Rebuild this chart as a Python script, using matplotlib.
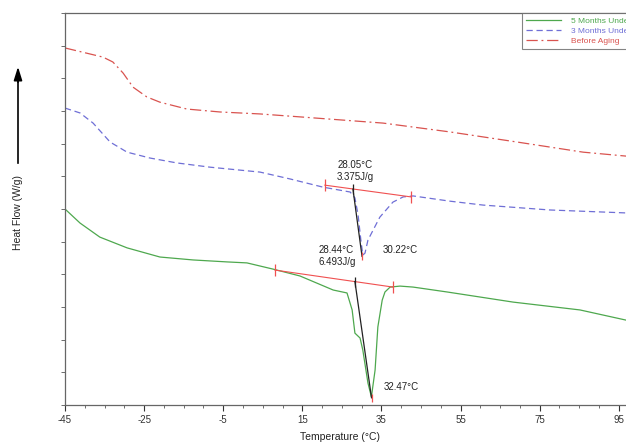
import matplotlib.pyplot as plt
import numpy as np

plt.rcParams['font.family'] = ['Liberation Sans', 'DejaVu Sans']
plt.rcParams['axes.unicode_minus'] = False

# Before Aging (red, dash-dot)
t_before = [-45, -35.4, -32.9, -30.3, -27.8, -24.3, -21.0, -14.2, -5.8, 4.3, 14.4,
            35.4, 52.3, 69.3, 86.0, 96.8, 100]
hf_before = [10.93, 10.65, 10.50, 10.16, 9.73, 9.43, 9.27, 9.06, 8.97, 8.91, 8.82,
             8.63, 8.36, 8.05, 7.74, 7.62, 7.58]

# 3 months (blue, dashed)
t_3m = [-45, -41.2, -37.9, -33.6, -29.3, -23.5, -16.7, -8.3, 4.3, 11.9, 20.2, 27.1,
        28.3, 29.1, 29.8, 30.3, 30.85, 31.6, 34.6, 37.9, 40.5, 43.0, 52.3, 60.7,
        77.6, 96.8, 100]
hf_3m = [9.09, 8.94, 8.63, 8.05, 7.74, 7.56, 7.41, 7.28, 7.13, 6.92, 6.67, 6.52,
         6.34, 5.82, 5.05, 4.59, 4.65, 5.05, 5.75, 6.21, 6.37, 6.40, 6.24, 6.12,
         5.97, 5.88, 5.86]

# 5 months (green, solid)
t_5m = [-45, -41.2, -36.2, -29.3, -21.0, -12.6, -4.0, 1.0, 7.6, 14.4, 22.8, 26.3,
        27.6, 28.3, 29.6, 30.3, 31.6, 32.47, 33.4, 34.1, 35.2, 35.9, 37.2, 39.7,
        43.0, 51.6, 68.3, 85.2, 96.8, 100]
hf_5m = [6.00, 5.57, 5.14, 4.81, 4.53, 4.44, 4.38, 4.35, 4.16, 3.95, 3.52, 3.43,
         2.91, 2.20, 2.05, 1.68, 0.67, 0.25, 1.07, 2.39, 3.21, 3.46, 3.61, 3.64,
         3.61, 3.46, 3.15, 2.91, 2.60, 2.52]

# integration baselines and peak drop lines
base_3m_t = [20.7, 42.5]
base_3m_hf = [6.73, 6.37]
drop_3m_t = [27.8, 30.1]
drop_3m_hf = [6.61, 4.55]

base_5m_t = [8.1, 37.9]
base_5m_hf = [4.13, 3.61]
drop_5m_t = [28.3, 32.5]
drop_5m_hf = [3.78, 0.22]

labels = ['5 Months Under Aging', '3 Months Under Aging', 'Before Aging']
green = '#4ea84e'
blue = '#6f6fd6'
red = '#d9534f'

fig = plt.figure(figsize=(6.26, 4.44), dpi=100)
ax = fig.add_axes([65/626, 39/444, 573.5/626, 392/444])

ax.plot(t_5m, hf_5m, color=green, lw=0.9, label=labels[0])
ax.plot(t_3m, hf_3m, color=blue, lw=0.9, ls=(0, (5, 3)), label=labels[1])
ax.plot(t_before, hf_before, color=red, lw=0.9, ls=(0, (9, 3, 1.5, 3)), label=labels[2])

for bt, bh, dt, dh in [(base_3m_t, base_3m_hf, drop_3m_t, drop_3m_hf),
                       (base_5m_t, base_5m_hf, drop_5m_t, drop_5m_hf)]:
    ax.plot(bt, bh, color='#f05050', lw=0.8)
    ax.plot(bt, bh, ls='none', marker='|', ms=9, mew=0.9, color='#f05050')
    ax.plot(dt, dh, color='#222222', lw=0.9)
    ax.plot(dt[:1], dh[:1], ls='none', marker='|', ms=7, mew=0.9, color='#222222')
    ax.plot(dt[1:], dh[1:], ls='none', marker='|', ms=6, mew=0.9, color='#f05050')

fs = 7
ax.text(23.8, 7.35, '28.05°C', fontsize=fs, va='center', color='#222222')
ax.text(23.8, 6.98, '3.375J/g', fontsize=fs, va='center', color='#222222')
ax.text(19.0, 4.74, '28.44°C', fontsize=fs, va='center', color='#222222')
ax.text(19.0, 4.38, '6.493J/g', fontsize=fs, va='center', color='#222222')
ax.text(35.4, 4.74, '30.22°C', fontsize=fs, va='center', color='#222222')
ax.text(35.7, 0.55, '32.47°C', fontsize=fs, va='center', color='#222222')

ax.set_xlim(-45, 100)
ax.set_ylim(0, 12)
ax.set_xticks(np.arange(-45, 100, 20))
ax.set_xticks(np.arange(-45, 100, 5), minor=True)
ax.set_yticks(np.arange(0, 13, 1))
ax.set_yticklabels([])
ax.tick_params(axis='x', which='major', length=4, width=0.8, labelsize=7, pad=3, colors='#333333')
ax.tick_params(axis='x', which='minor', length=2.5, width=0.6, colors='#555555')
ax.tick_params(axis='y', length=3, width=0.6, colors='#555555')
for s in ['left', 'bottom', 'top']:
    ax.spines[s].set_color('#666666')
    ax.spines[s].set_linewidth(0.9)
ax.spines['right'].set_visible(False)

# legend runs off the right edge, as in the original figure
leg = ax.legend(loc='upper left', bbox_to_anchor=((522 - 65) / 573.5, 1.0),
                fontsize=6, handlelength=4.2, borderaxespad=0, fancybox=False,
                labelcolor='linecolor', borderpad=0.5, labelspacing=0.25,
                handletextpad=1.2)
leg.get_frame().set_edgecolor('#666666')
leg.get_frame().set_linewidth(0.8)

fig.text(340/626, 1 - 437/444, 'Temperature (°C)', fontsize=7.5, ha='center', va='center',
         color='#222222')
fig.text(18/626, 1 - 212/444, 'Heat Flow (W/g)', fontsize=7.5, rotation=90,
         ha='center', va='center', color='#222222')
fig.add_artist(plt.Line2D([18/626, 18/626], [1 - 163/444, 1 - 80/444], color='black', lw=1.2))
ax.annotate('', xy=(18/626, 1 - 64/444), xytext=(18/626, 1 - 85/444),
            xycoords='figure fraction', textcoords='figure fraction',
            arrowprops=dict(arrowstyle='-|>,head_width=0.25,head_length=0.8',
                            color='black', lw=1.2))

fig.savefig('out.png', dpi=100)
